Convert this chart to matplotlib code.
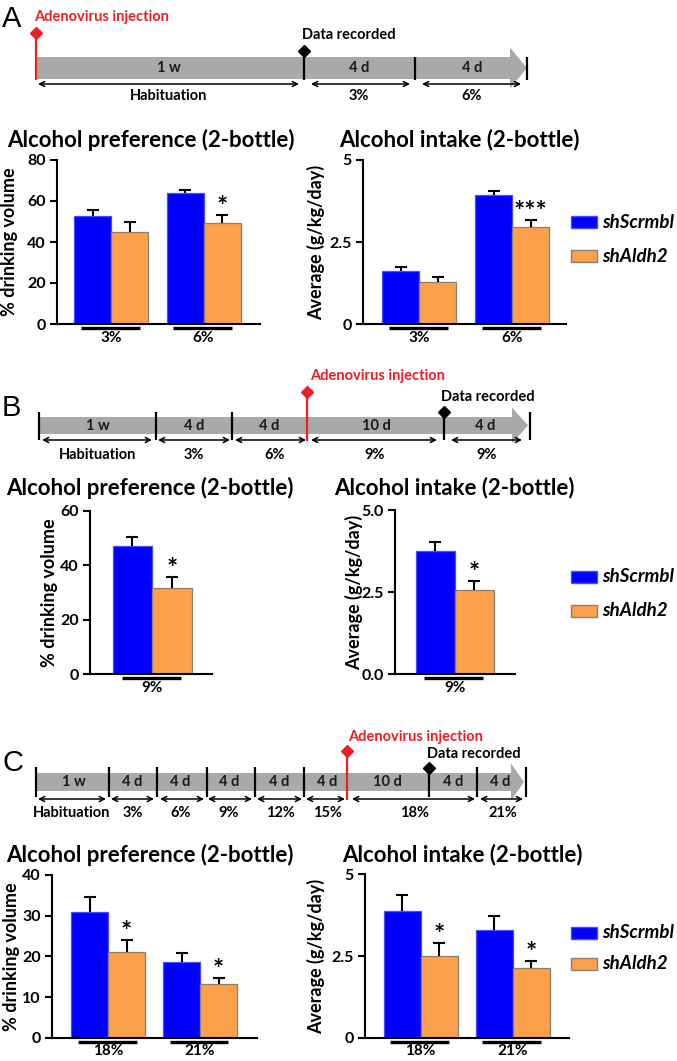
import numpy as np
import matplotlib
matplotlib.use('Agg')
import matplotlib.pyplot as plt
from matplotlib.patches import Rectangle, Polygon

plt.rcParams['font.family'] = ['Lato', 'DejaVu Sans']
plt.rcParams['font.weight'] = 'bold'
plt.rcParams['axes.labelweight'] = 'bold'

W, H = 677, 1061
fig = plt.figure(figsize=(W / 100, H / 100), dpi=100)

# ---------------- data ----------------
series_names = ['shScrmbl', 'shAldh2']
series_colors = ['#0000FF', '#FBA04B']
series_edges = ['#4C4CFF', '#8E7E6E']

# Panel A
A_groups = ['3%', '6%']
A_pref_scr = [52.8, 64.0]
A_pref_scr_err = [2.8, 1.4]
A_pref_ald = [45.0, 49.4]
A_pref_ald_err = [4.8, 3.9]
A_pref_sig = ['', '*']
A_int_scr = [1.62, 3.93]
A_int_scr_err = [0.13, 0.12]
A_int_ald = [1.27, 2.95]
A_int_ald_err = [0.15, 0.22]
A_int_sig = ['', '***']

# Panel B
B_groups = ['9%']
B_pref_scr = [46.9]
B_pref_scr_err = [3.6]
B_pref_ald = [31.5]
B_pref_ald_err = [4.1]
B_pref_sig = ['*']
B_int_scr = [3.75]
B_int_scr_err = [0.28]
B_int_ald = [2.56]
B_int_ald_err = [0.28]
B_int_sig = ['*']

# Panel C
C_groups = ['18%', '21%']
C_pref_scr = [30.9, 18.7]
C_pref_scr_err = [3.6, 2.05]
C_pref_ald = [21.0, 13.1]
C_pref_ald_err = [3.0, 1.5]
C_pref_sig = ['*', '*']
C_int_scr = [3.88, 3.30]
C_int_scr_err = [0.49, 0.42]
C_int_ald = [2.51, 2.12]
C_int_ald_err = [0.40, 0.23]
C_int_sig = ['*', '*']

pref_title = 'Alcohol preference (2-bottle)'
int_title = 'Alcohol intake (2-bottle)'
pref_ylabel = '% drinking volume'
int_ylabel = 'Average (g/kg/day)'

A_pref_ticks = [0, 20, 40, 60, 80]
A_pref_ticklabels = ['0', '20', '40', '60', '80']
A_int_ticks = [0, 2.5, 5]
A_int_ticklabels = ['0', '2.5', '5']
B_pref_ticks = [0, 20, 40, 60]
B_pref_ticklabels = ['0', '20', '40', '60']
B_int_ticks = [0, 2.5, 5]
B_int_ticklabels = ['0.0', '2.5', '5.0']
C_pref_ticks = [0, 10, 20, 30, 40]
C_pref_ticklabels = ['0', '10', '20', '30', '40']
C_int_ticks = [0, 2.5, 5]
C_int_ticklabels = ['0', '2.5', '5']

# timeline texts
A_seg_labels = ['1 w', '4 d', '4 d']
A_period_labels = ['Habituation', '3%', '6%']
B_seg_labels = ['1 w', '4 d', '4 d', '10 d', '4 d']
B_period_labels = ['Habituation', '3%', '6%', '9%', '9%']
C_seg_labels = ['1 w', '4 d', '4 d', '4 d', '4 d', '4 d', '10 d', '4 d', '4 d']
C_period_labels = ['Habituation', '3%', '6%', '9%', '12%', '15%', '18%', '21%']
inj_text = 'Adenovirus injection'
rec_text = 'Data recorded'
RED = '#EE1C25'
GRAY = '#A9A9A9'

# ---------------- overlay (pixel coordinates) ----------------
ov = fig.add_axes([0, 0, 1, 1])
ov.set_xlim(0, W)
ov.set_ylim(H, 0)
ov.axis('off')
ov.set_zorder(0)

TL_FS = 10.5


def timeline(bar_x0, head_x0, tip_x, bar_top, bar_bot, line_top, line_bot,
             vlines_x, red, black, seg_x, seg_labels, arrows, arrow_y,
             per_x, per_labels, per_y):
    ov.add_patch(Rectangle((bar_x0, bar_top), head_x0 - bar_x0, bar_bot - bar_top,
                           facecolor=GRAY, edgecolor='none', zorder=1))
    mid = (bar_top + bar_bot) / 2
    hp = 9.5
    ov.add_patch(Polygon([[head_x0, bar_top - hp], [tip_x, mid], [head_x0, bar_bot + hp]],
                         closed=True, facecolor=GRAY, edgecolor='none', zorder=1))
    for x in vlines_x:
        ov.plot([x, x], [line_top, line_bot], color='black', lw=1.6, zorder=3,
                solid_capstyle='butt')
    rx, ry, rtx, rty, rbot = red
    ov.plot([rx, rx], [ry, rbot], color=RED, lw=1.6, zorder=4, solid_capstyle='butt')
    ov.plot([rx], [ry], marker='D', ms=6.5, color=RED, zorder=5)
    ov.text(rtx, rty, inj_text, color=RED, fontsize=TL_FS, ha='left', va='center')
    bx, by, btx, bty = black
    ov.plot([bx, bx], [by, line_bot], color='black', lw=1.6, zorder=4, solid_capstyle='butt')
    ov.plot([bx], [by], marker='D', ms=6.5, color='black', zorder=5)
    ov.text(btx, bty, rec_text, color='black', fontsize=TL_FS, ha='left', va='center')
    for x, s in zip(seg_x, seg_labels):
        ov.text(x, mid, s, fontsize=TL_FS, ha='center', va='center', color='#1A1A1A', zorder=6)
    for (x0, x1) in arrows:
        ov.annotate('', xy=(x1, arrow_y), xytext=(x0, arrow_y),
                    arrowprops=dict(arrowstyle='<->', color='black', lw=1.1,
                                    shrinkA=0, shrinkB=0, mutation_scale=9), zorder=6)
    for x, s in zip(per_x, per_labels):
        ov.text(x, per_y, s, fontsize=TL_FS, ha='center', va='center')


# Panel A timeline
timeline(36, 510, 527, 57, 79, 57, 80,
         [415, 527],
         (36, 33, 34, 17, 80), (304, 51, 302, 35),
         [169, 359, 472], A_seg_labels,
         [(38, 299), (311, 410), (422, 521)], 84,
         [169, 359, 472], A_period_labels, 96)

# Panel B timeline
timeline(39, 512, 528, 417, 434, 412, 440,
         [39, 156, 232, 530],
         (307, 392, 310, 376, 441), (444, 412, 441, 397),
         [98, 194, 269, 376, 485], B_seg_labels,
         [(42, 152), (158, 230), (235, 306), (311, 437), (451, 522)], 440,
         [98, 194, 275, 375, 487], B_period_labels, 455)

# Panel C timeline
timeline(36, 511, 524, 773, 791, 767, 797,
         [36, 109, 157, 207, 255, 304, 477, 526],
         (347, 751, 348, 737, 800), (429, 768, 427, 754),
         [74, 132, 180, 229, 279, 327, 387, 453, 500], C_seg_labels,
         [(38, 106), (111, 154), (160, 204), (208, 252), (257, 302), (306, 345),
          (352, 475), (480, 523)], 799,
         [72, 133, 181, 229, 280, 328, 415, 503], C_period_labels, 813)

# panel letters
for letter, (lx, ly) in zip(['A', 'B', 'C'], [(2, 19), (2, 408), (2, 763)]):
    ov.text(lx, ly, letter, fontsize=21, fontweight='normal', family='Liberation Sans',
            ha='left', va='center')


# ---------------- bar charts ----------------
def bar_chart(x0, x1, y_top, y_bot, ymax, ticks, ticklabels, c0, sp, bw,
              groups, scr, scr_err, ald, ald_err, sig, title, title_x, title_y,
              ylabel, ylabel_right):
    wpx, hpx = x1 - x0, y_bot - y_top
    ax = fig.add_axes([x0 / W, 1 - y_bot / H, wpx / W, hpx / H])
    ax.set_facecolor('none')
    ax.set_zorder(2)
    ax.set_xlim((x0 - c0) / sp, (x1 - c0) / sp)
    ax.set_ylim(0, ymax)
    idx = np.arange(len(groups))
    w = bw / sp
    vals = [scr, ald]
    errs = [scr_err, ald_err]
    for k in range(2):
        xs = idx + (k - 0.5) * w
        ax.bar(xs, vals[k], width=w, color=series_colors[k], edgecolor=series_edges[k],
               linewidth=0.9, zorder=2)
        top = np.array(vals[k]) + np.array(errs[k])
        ax.vlines(xs, vals[k], top, color='black', lw=1.5, zorder=3)
        ax.plot(xs, top, ls='none', marker='_', ms=8, mew=1.5, color='black', zorder=3)
        if k == 1:
            for xi, t, s in zip(xs, top, sig):
                if s:
                    ax.annotate(s, (xi, t), xytext=(0, -3), textcoords='offset points',
                                ha='center', va='bottom', fontsize=19, zorder=4)
    tr = ax.get_xaxis_transform()
    for i, g in enumerate(groups):
        cx = i - 1.0 / sp
        hw = 29.5 / sp
        ax.plot([cx - hw, cx + hw], [-3.8 / hpx, -3.8 / hpx], transform=tr, clip_on=False,
                color='black', lw=2.4, solid_capstyle='butt')
        ax.text(i, -13.5 / hpx, g, transform=tr, ha='center', va='center', fontsize=11)
    for s in ['top', 'right']:
        ax.spines[s].set_visible(False)
    for s in ['left', 'bottom']:
        ax.spines[s].set_linewidth(1.5)
    ax.set_xticks([])
    ax.set_yticks(ticks)
    ax.set_yticklabels(ticklabels)
    ax.tick_params(axis='y', length=5, width=1.5, labelsize=11.5, pad=3)
    ax.set_ylabel(ylabel, fontsize=13, fontweight='bold')
    ax.yaxis.set_label_coords((ylabel_right - x0) / wpx, 0.5)
    fig.text(title_x / W, 1 - title_y / H, title, fontsize=16, ha='left', va='center')
    return ax


# A
bar_chart(57, 260, 160, 324, 80, A_pref_ticks, A_pref_ticklabels, 111, 92.5, 37,
          A_groups, A_pref_scr, A_pref_scr_err, A_pref_ald, A_pref_ald_err, A_pref_sig,
          pref_title, 7, 140, pref_ylabel, 18)
bar_chart(363, 566, 160, 324, 5, A_int_ticks, A_int_ticklabels, 419, 93, 37,
          A_groups, A_int_scr, A_int_scr_err, A_int_ald, A_int_ald_err, A_int_sig,
          int_title, 339, 140, int_ylabel, 325)
# B
bar_chart(90, 212, 510.7, 674, 60, B_pref_ticks, B_pref_ticklabels, 152, 92, 39.5,
          B_groups, B_pref_scr, B_pref_scr_err, B_pref_ald, B_pref_ald_err, B_pref_sig,
          pref_title, 6, 488, pref_ylabel, 58)
bar_chart(395, 515, 510, 674, 5, B_int_ticks, B_int_ticklabels, 455, 92, 39,
          B_groups, B_int_scr, B_int_scr_err, B_int_ald, B_int_ald_err, B_int_sig,
          int_title, 334, 488, int_ylabel, 363)
# C
bar_chart(52, 257, 875, 1037.7, 40, C_pref_ticks, C_pref_ticklabels, 108, 92, 37,
          C_groups, C_pref_scr, C_pref_scr_err, C_pref_ald, C_pref_ald_err, C_pref_sig,
          pref_title, 6, 855, pref_ylabel, 20)
bar_chart(365, 569, 874.3, 1037.7, 5, C_int_ticks, C_int_ticklabels, 420.7, 92, 37,
          C_groups, C_int_scr, C_int_scr_err, C_int_ald, C_int_ald_err, C_int_sig,
          int_title, 342, 855, int_ylabel, 325)


# ---------------- legends ----------------
def legend(y_centers):
    for k in range(2):
        yc = y_centers[k]
        ov.add_patch(Rectangle((571, yc - 6), 26, 12, facecolor=series_colors[k],
                               edgecolor=series_edges[k], lw=1.0, zorder=3))
        ov.text(602, yc, series_names[k], fontsize=13.5, style='italic',
                ha='left', va='center')


legend([222, 256])
legend([577, 611])
legend([933, 963.5])

fig.savefig('out.png', dpi=100)
